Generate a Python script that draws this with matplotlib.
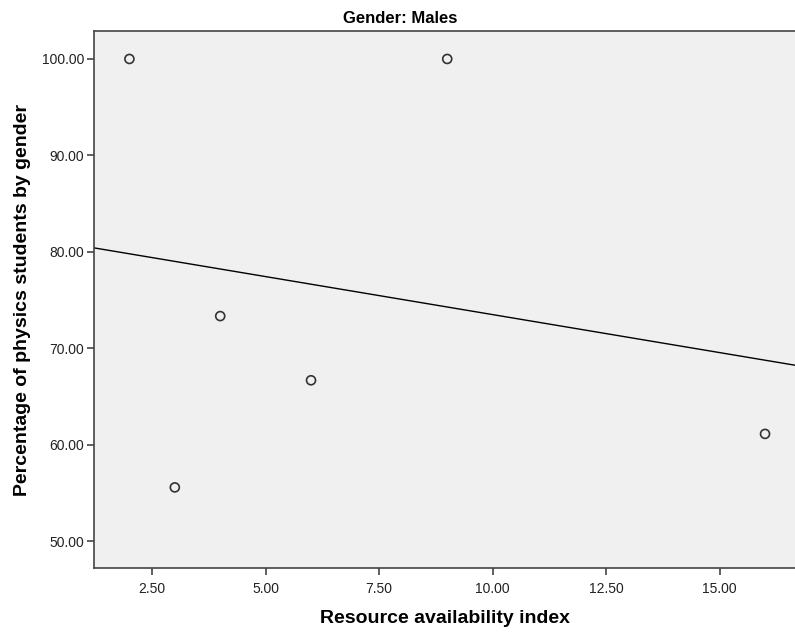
import numpy as np
import matplotlib
matplotlib.use("Agg")
import matplotlib.pyplot as plt

# Data
resource_index = [2, 3, 4, 6, 9, 16]
pct_physics = [100.0, 55.56, 73.33, 66.67, 100.0, 61.11]
x_ticks = [2.5, 5.0, 7.5, 10.0, 12.5, 15.0]
y_ticks = [50, 60, 70, 80, 90, 100]

plt.rcParams['font.family'] = ['Liberation Sans', 'DejaVu Sans']

fig = plt.figure(figsize=(7.95, 6.32), dpi=100)
ax = fig.add_axes([94/795, (632-568)/632, 1 - 94/795, (568-31)/632])
ax.set_facecolor('#F0F0F0')

xlim = (1.22, 16.66)
ax.set_xlim(*xlim)
ax.set_ylim(47.2, 102.9)

ax.scatter(resource_index, pct_physics, s=42, facecolors='none',
           edgecolors='#333333', linewidths=1.2, zorder=3)

# Linear fit line
slope, intercept = np.polyfit(resource_index, pct_physics, 1)
xs = np.array(xlim)
ax.plot(xs, slope * xs + intercept, color='black', lw=1.0, zorder=2)

ax.set_xticks(x_ticks)
ax.set_xticklabels([f"{v:.2f}" for v in x_ticks])
ax.set_yticks(y_ticks)
ax.set_yticklabels([f"{v:.2f}" for v in y_ticks])

for s in ['top', 'left', 'bottom']:
    ax.spines[s].set_color('#444444')
    ax.spines[s].set_linewidth(1.2)
ax.spines['right'].set_visible(False)

ax.tick_params(axis='both', direction='out', length=5, width=1.2, color='#444444',
               labelsize=10, labelcolor='#222222')
ax.tick_params(axis='x', pad=5)
ax.tick_params(axis='y', pad=2)

fig.text(0.503, 1 - 23/632, 'Gender: Males', fontsize=12, fontweight='bold',
         ha='center', va='baseline')
ax.set_xlabel('Resource availability index', fontsize=14, fontweight='bold', labelpad=10)
ax.set_ylabel('Percentage of physics students by gender', fontsize=14, fontweight='bold', labelpad=8)

fig.savefig('out.png', dpi=100)
